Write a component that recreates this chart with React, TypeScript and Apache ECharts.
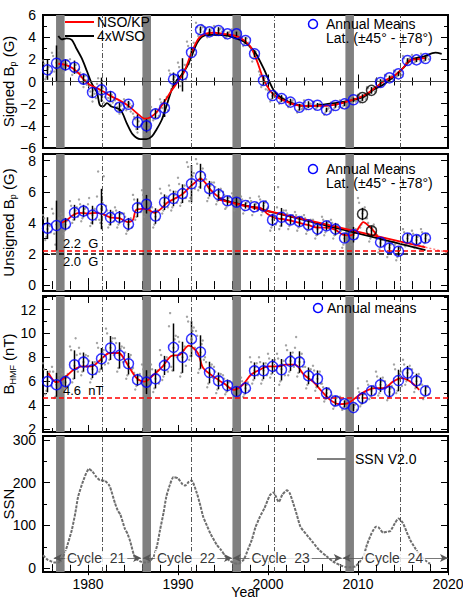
import React, { useEffect, useRef } from "react";
import * as echarts from "echarts";

const FONT = "'Liberation Sans', Arial, Helvetica, sans-serif";
const X_MIN = 1975;
const X_MAX = 2020;
const X_LABELS = [1980, 1990, 2000, 2010, 2020];
const X_MAJOR = [1980, 1990, 2000, 2010, 2020];
const X_MINOR = [1976, 1978, 1982, 1984, 1986, 1988, 1992, 1994, 1996, 1998, 2002, 2004, 2006, 2008, 2012, 2014, 2016, 2018];

// solar minima (gray bands) and maxima (dash-dot lines)
const minimaBands = [[1976.45, 1977.4], [1986.05, 1987.0], [1996.05, 1997.0], [2008.6, 2009.55]];
const maximaYears = [1981.63, 1991.44, 2000.7, 2014.67];

// annual mean epochs
const meanYears = [1975.5, 1976.5, 1977.5, 1978.5, 1979.5, 1980.5, 1981.5, 1982.5, 1983.5, 1984.5, 1985.5, 1986.5, 1987.5, 1988.5, 1989.5, 1990.5, 1991.5, 1992.5, 1993.5, 1994.5, 1995.5, 1996.5, 1997.5, 1998.5, 1999.5, 2000.5, 2001.5, 2002.5, 2003.5, 2004.5, 2005.5, 2006.5, 2007.5, 2008.5, 2009.5, 2010.5, 2011.5, 2012.5, 2013.5, 2014.5, 2015.5, 2016.5, 2017.5];
const gapYears = [2010.5, 2011.5];
const dotYears = [1975, 1976, 1977, 1978, 1979, 1980, 1981, 1982, 1983, 1984, 1985, 1986, 1987, 1988, 1989, 1990, 1991, 1992, 1993, 1994, 1995, 1996, 1997, 1998, 1999, 2000, 2001, 2002, 2003, 2004, 2005, 2006, 2007, 2008, 2009, 2010, 2011, 2012, 2013, 2014, 2015, 2016, 2017];
const dotOffsetsA = [0.125, 0.375, 0.625, 0.875];
const dotOffsetsB = [0.0, 0.25, 0.5, 0.75];

// ---- Panel 1: signed Bp
const signedMeans = [1.05, 1.65, 1.5, 1.29, 0.21, -0.99, -0.75, -1.35, -2.32, -2.05, -3.67, -4.0, -2.92, -2.4, 0.21, 0.6, 2.62, 4.66, 4.48, 4.6, 4.3, 4.3, 3.7, 2.5, 0.09, -1.26, -1.53, -1.86, -2.32, -2.08, -2.14, -2.56, -2.17, -2.02, -1.65, -1.45, -0.8, -0.09, 0.33, 0.69, 1.9, 1.95, 2.07];
const signedErr = [0.9, 1.6, 0.5, 0.6, 0.5, 0.5, 1.1, 0.5, 0.4, 0.3, 0.7, 0.6, 0.4, 0.8, 0.6, 1.5, 0.4, 0.3, 0.3, 0.3, 0.2, 0.2, 0.3, 0.3, 0.4, 0.3, 0.3, 0.3, 0.3, 0.3, 0.2, 0.2, 0.2, 0.2, 0.2, 0.3, 0.3, 0.3, 0.2, 0.2, 0.2, 0.2, 0.2];
const signedDotsA = [
  [1.6, 0.4, 1.3, 0.9], [2.3, 1.2, 2.0, 1.3], [1.8, 1.0, 1.6, 1.4], [1.6, 0.9, 1.5, 1.0], [0.8, -0.1, 0.5, -0.3],
  [-0.4, -1.3, -0.8, -1.5], [0.3, -1.2, -0.6, -1.4], [-1.0, -1.8, -1.2, -1.6], [-2.0, -2.6, -2.2, -2.5], [-1.8, -2.3, -2.0, -2.2],
  [-3.2, -4.3, -3.6, -3.9], [-3.6, -4.5, -4.2, -3.8], [-2.6, -3.3, -2.8, -3.1], [-1.9, -2.9, -2.2, -2.6], [0.7, -0.4, 0.4, 0.0],
  [1.3, 0.0, 1.1, 0.2], [3.2, 2.0, 3.0, 2.4], [4.9, 4.3, 5.1, 4.5], [4.7, 4.2, 4.6, 4.4], [4.9, 4.3, 4.7, 4.5],
  [4.5, 4.0, 4.4, 4.2], [4.5, 4.1, 4.4, 4.2], [4.0, 3.4, 3.9, 3.5], [2.9, 2.1, 2.7, 2.3], [0.6, -0.3, 0.3, -0.1],
  [-1.0, -1.6, -1.1, -1.4], [-1.3, -1.8, -1.5, -1.6], [-1.6, -2.1, -1.8, -2.0], [-2.1, -2.6, -2.2, -2.4], [-1.9, -2.3, -2.0, -2.2],
  [-1.9, -2.4, -2.1, -2.3], [-2.3, -2.8, -2.5, -2.7], [-2.0, -2.4, -2.1, -2.3], [-1.8, -2.2, -1.9, -2.1], [-1.5, -1.9, -1.6, -1.7],
  [-1.3, -1.7, -1.4, -1.6], [-0.6, -1.0, -0.7, -0.9], [0.1, -0.3, 0.0, -0.2], [0.5, 0.1, 0.4, 0.2], [0.9, 0.5, 0.8, 0.6],
  [2.1, 1.7, 2.0, 1.8], [2.2, 1.8, 2.1, 1.9], [2.3, 1.9, 2.2, 2.0],
];
const signedDotsB = [
  [1.9, 0.2, 1.1, 0.6], [2.6, 0.9, 1.7, 2.8], [2.0, 0.8, 1.3, 1.9], [2.0, 0.6, 1.2, 0.8], [1.1, 0.4, -0.5, 0.1],
  [0.1, -0.9, -1.8, -1.1], [-0.2, -0.9, -1.7, -1.9], [-0.7, -1.5, -2.1, -1.9], [-1.7, -2.3, -2.9, -2.1], [-1.6, -2.6, -1.9, -2.7],
  [-2.9, -3.4, -4.6, -4.1], [-3.4, -4.8, -4.0, -3.9], [-2.3, -3.5, -2.5, -3.3], [-1.6, -2.4, -3.1, -1.4], [1.0, -0.7, 0.2, 0.6],
  [1.7, -0.4, 0.7, 1.5], [3.6, 1.6, 2.7, 3.5], [5.3, 4.1, 4.7, 4.9], [4.9, 4.0, 4.5, 4.8], [5.0, 4.2, 4.6, 4.8],
  [4.7, 3.9, 4.3, 4.5], [4.7, 3.9, 4.3, 4.6], [4.2, 3.2, 3.7, 3.3], [3.1, 1.8, 2.5, 2.0], [0.9, -0.5, 0.1, -0.7],
  [-0.8, -1.8, -1.3, -1.2], [-1.1, -2.0, -1.4, -1.7], [-1.5, -2.3, -1.9, -1.7], [-2.0, -2.8, -2.3, -2.5], [-1.7, -2.5, -2.1, -2.0],
  [-1.8, -2.5, -2.2, -2.0], [-2.2, -3.0, -2.6, -2.4], [-1.9, -2.6, -2.2, -2.0], [-1.7, -2.4, -2.0, -1.8], [-1.4, -2.0, -1.6, -1.8],
  [-1.2, -1.9, -1.5, -1.4], [-0.5, -1.2, -0.8, -0.6], [0.2, -0.4, -0.1, 0.1], [0.6, 0.0, 0.3, 0.5], [1.0, 0.4, 0.7, 0.9],
  [2.3, 1.5, 1.9, 2.1], [2.4, 1.7, 2.0, 2.2], [2.5, 1.8, 2.1, 2.3],
];
const nsoKpCurve = [[1976.7, 1.6], [1977.5, 1.5], [1978.3, 1.2], [1979.0, 0.7], [1979.5, 0.2], [1980.2, -0.3], [1981.0, -0.6], [1981.7, -0.9], [1982.5, -1.3], [1983.5, -1.7], [1984.5, -2.2], [1985.5, -2.9], [1986.3, -3.35], [1987.0, -3.2], [1987.8, -2.6], [1988.5, -1.8], [1989.3, -0.8], [1990.0, 0.0], [1990.7, 0.9], [1991.5, 2.6], [1992.3, 3.9], [1993.0, 4.3], [1994.0, 4.4], [1995.0, 4.3], [1996.0, 4.2], [1997.0, 3.9], [1998.0, 3.2], [1998.8, 1.8], [1999.5, 0.2], [2000.3, -0.9], [2001.0, -1.4], [2002.0, -1.8], [2003.0, -2.1], [2004.0, -2.2], [2005.0, -2.2], [2006.0, -2.2], [2007.0, -2.15], [2008.0, -2.0], [2009.0, -1.75], [2010.0, -1.5], [2011.0, -1.1], [2012.0, -0.5], [2013.0, 0.1], [2014.0, 0.5], [2015.0, 1.2], [2015.7, 1.9], [2016.5, 2.0], [2017.5, 2.1]];
const wsoCurve = [[1976.7, 4.1], [1977.1, 3.8], [1977.6, 3.9], [1978.2, 3.76], [1978.7, 3.0], [1979.3, 2.1], [1979.9, 0.9], [1980.4, -0.15], [1981.0, -1.0], [1981.3, -2.1], [1981.7, -2.25], [1982.1, -1.95], [1982.6, -2.25], [1983.6, -2.55], [1984.3, -3.75], [1985.0, -4.8], [1985.8, -5.2], [1986.5, -5.2], [1987.1, -4.95], [1987.6, -4.35], [1988.2, -3.45], [1988.7, -2.25], [1989.3, -0.75], [1989.9, 0.15], [1990.4, 0.6], [1991.0, 1.35], [1991.5, 2.25], [1992.1, 3.45], [1992.8, 4.1], [1993.9, 4.2], [1995.4, 4.15], [1996.9, 3.75], [1997.3, 3.6], [1998.0, 3.15], [1998.6, 2.6], [1999.5, 1.2], [2000.6, -0.75], [2001.5, -1.5], [2003.2, -2.1], [2005.0, -2.2], [2006.9, -2.0], [2008.7, -1.8], [2010.6, -1.4], [2011.7, -0.75], [2012.8, -0.3], [2013.9, 0.4], [2015.0, 1.2], [2016.0, 2.0], [2017.3, 2.25], [2018.6, 2.6], [2019.3, 2.5]];

// ---- Panel 2: unsigned Bp
const unsignedMeans = [3.66, 3.83, 3.92, 4.66, 4.76, 4.5, 4.89, 4.34, 4.36, 3.92, 4.97, 5.2, 4.44, 5.33, 5.57, 5.88, 6.52, 7.0, 6.2, 5.82, 5.42, 5.33, 5.12, 5.04, 5.08, 4.19, 4.36, 4.19, 4.08, 3.87, 3.6, 3.81, 3.6, 3.03, 3.24, 4.57, 3.49, 2.75, 2.39, 2.18, 3.03, 2.92, 3.03];
const unsignedErr = [0.7, 1.6, 0.4, 0.5, 0.4, 0.6, 1.3, 0.5, 0.4, 0.4, 0.6, 0.6, 0.5, 0.5, 0.5, 0.6, 1.2, 0.8, 0.5, 0.4, 0.3, 0.3, 0.2, 0.2, 0.3, 0.4, 0.6, 0.3, 0.3, 0.3, 0.4, 0.3, 0.4, 0.3, 0.5, 0.4, 0.3, 0.3, 0.3, 0.3, 0.3, 0.3, 0.3];
const unsignedDotsA = [
  [4.3, 3.1, 3.9, 3.4], [4.6, 2.6, 4.1, 3.7], [4.4, 3.5, 4.1, 3.7], [5.1, 4.2, 4.8, 4.4], [5.2, 4.3, 4.9, 4.5],
  [5.6, 4.0, 4.7, 4.2], [7.3, 4.0, 5.3, 4.5], [4.8, 3.9, 4.5, 4.1], [4.8, 3.9, 4.6, 4.1], [4.4, 3.5, 4.1, 3.7],
  [5.5, 4.4, 5.2, 4.7], [5.8, 4.6, 5.4, 4.9], [5.0, 3.9, 4.7, 4.2], [5.9, 4.8, 5.6, 5.0], [6.1, 5.0, 5.8, 5.3],
  [6.5, 5.3, 6.2, 5.6], [7.6, 5.6, 7.0, 6.2], [7.8, 6.3, 7.3, 6.7], [6.8, 5.6, 6.4, 6.0], [6.3, 5.4, 6.0, 5.6],
  [5.8, 5.0, 5.6, 5.2], [5.7, 5.0, 5.5, 5.1], [5.5, 4.8, 5.3, 4.9], [5.4, 4.7, 5.2, 4.8], [5.5, 4.7, 5.3, 4.9],
  [4.7, 3.7, 4.4, 3.9], [6.3, 3.8, 4.6, 4.1], [4.6, 3.8, 4.4, 4.0], [4.5, 3.7, 4.3, 3.9], [4.3, 3.5, 4.1, 3.6],
  [4.0, 3.2, 3.8, 3.4], [4.2, 3.4, 4.0, 3.6], [4.0, 3.2, 3.8, 3.4], [3.5, 2.6, 3.2, 2.8], [3.8, 2.8, 3.5, 3.0],
  [5.3, 3.9, 4.8, 4.3], [4.0, 3.0, 3.7, 3.3], [3.2, 2.3, 2.9, 2.5], [2.8, 2.0, 2.6, 2.2], [2.6, 1.8, 2.4, 2.0],
  [3.4, 2.6, 3.2, 2.8], [3.3, 2.5, 3.1, 2.7], [3.4, 2.7, 3.2, 2.9],
];
const unsignedDotsB = [
  [4.5, 2.9, 3.6, 3.8], [4.9, 3.3, 3.9, 4.3], [4.6, 3.3, 3.9, 4.2], [5.4, 4.0, 4.6, 5.0], [5.5, 4.1, 4.7, 5.0],
  [5.2, 3.8, 4.5, 4.9], [5.7, 4.2, 4.9, 7.0], [5.1, 3.7, 4.3, 4.7], [5.0, 3.7, 4.3, 4.6], [4.6, 3.3, 3.9, 4.3],
  [5.8, 4.2, 4.9, 5.3], [6.1, 4.4, 5.1, 5.6], [5.3, 3.7, 4.4, 4.8], [6.2, 4.6, 5.3, 5.7], [6.4, 4.8, 5.5, 6.0],
  [6.9, 5.1, 5.9, 6.4], [7.9, 5.4, 6.5, 7.2], [8.1, 6.1, 6.9, 7.5], [7.1, 5.4, 6.2, 6.6], [6.6, 5.2, 5.8, 6.2],
  [6.0, 4.9, 5.4, 5.7], [5.9, 4.8, 5.3, 5.6], [5.7, 4.6, 5.1, 5.4], [5.6, 4.5, 5.0, 5.3], [5.7, 4.5, 5.1, 5.4],
  [5.0, 3.5, 4.2, 4.6], [5.0, 3.6, 4.3, 4.8], [4.8, 3.6, 4.2, 4.5], [4.7, 3.5, 4.1, 4.4], [4.5, 3.3, 3.9, 4.2],
  [4.2, 3.0, 3.6, 3.9], [4.4, 3.2, 3.8, 4.1], [4.2, 3.0, 3.6, 3.9], [3.7, 2.4, 3.0, 3.3], [4.0, 2.6, 3.2, 3.6],
  [5.6, 3.7, 4.6, 5.0], [4.3, 2.8, 3.5, 3.9], [3.4, 2.1, 2.7, 3.0], [3.0, 1.8, 2.4, 2.7], [2.8, 1.6, 2.2, 2.5],
  [3.6, 2.5, 3.0, 3.3], [3.5, 2.4, 2.9, 3.2], [3.6, 2.5, 3.0, 3.3],
];
const unsignedSmooth = [[1977.0, 4.0], [1977.6, 4.15], [1978.2, 4.45], [1979.0, 4.65], [1980.0, 4.6], [1981.0, 4.65], [1981.7, 4.55], [1982.5, 4.35], [1983.5, 4.3], [1984.4, 4.05], [1985.0, 4.2], [1985.3, 4.8], [1986.0, 4.9], [1986.7, 4.85], [1987.4, 4.65], [1988.0, 4.85], [1988.8, 5.3], [1989.6, 5.55], [1990.5, 5.85], [1991.3, 6.3], [1991.9, 6.6], [1992.5, 6.85], [1993.0, 6.6], [1993.5, 6.2], [1994.2, 5.8], [1995.0, 5.5], [1996.0, 5.3], [1997.0, 5.15], [1998.0, 5.05], [1999.2, 4.95], [2000.0, 4.55], [2000.8, 4.3], [2001.6, 4.25], [2002.5, 4.15], [2003.5, 4.0], [2004.5, 3.85], [2005.5, 3.7], [2006.5, 3.7], [2007.5, 3.55], [2008.3, 3.25], [2009.2, 3.2], [2009.8, 3.45], [2010.6, 4.05], [2011.2, 3.8], [2011.7, 3.5], [2012.3, 3.0]];
const unsignedFitBlack = [[1994.5, 5.55], [2017.5, 2.25]];
const unsignedFitRed = [[1994.5, 5.5], [2017.5, 2.43]];
const unsignedFitRedExt = [[2017.5, 2.43], [2020, 2.1]];
const unsignedThresholds = [2.2, 2.0];

// ---- Panel 3: B_HMF
const hmfMeans = [5.97, 5.7, 5.97, 7.38, 7.6, 6.96, 7.88, 8.78, 8.16, 7.46, 6.12, 5.92, 6.2, 7.32, 8.83, 8.0, 9.54, 8.44, 6.73, 6.03, 5.64, 5.14, 5.42, 6.87, 6.87, 7.24, 6.96, 7.66, 7.6, 6.45, 6.2, 5.0, 4.35, 4.1, 3.79, 4.58, 5.19, 5.7, 5.14, 6.06, 6.68, 6.03, 5.19];
const hmfErr = [0.9, 1.0, 0.5, 1.2, 0.8, 0.7, 0.9, 1.0, 1.1, 0.9, 0.5, 1.0, 0.8, 0.8, 2.0, 1.3, 1.5, 1.4, 0.9, 0.7, 0.5, 0.4, 0.5, 0.7, 0.7, 0.6, 0.9, 0.8, 0.9, 0.7, 0.7, 0.5, 0.4, 0.3, 0.3, 0.5, 0.4, 0.6, 0.5, 0.9, 0.6, 0.6, 0.4];
const hmfDotsA = [
  [7.0, 5.2, 6.5, 5.6], [6.8, 4.7, 6.2, 5.2], [6.6, 5.4, 6.3, 5.7], [8.6, 6.2, 9.6, 6.8], [8.3, 6.8, 8.0, 7.2],
  [7.7, 6.2, 7.4, 6.6], [8.8, 7.0, 8.4, 7.4], [10.0, 7.8, 9.3, 8.2], [9.2, 7.1, 8.7, 7.6], [8.4, 6.5, 8.0, 7.0],
  [6.7, 5.6, 6.4, 5.9], [7.0, 4.9, 6.5, 5.4], [7.0, 5.4, 6.6, 5.8], [8.2, 6.4, 7.8, 6.8], [11.7, 6.9, 9.5, 8.0],
  [9.3, 6.7, 8.6, 7.3], [11.0, 8.1, 10.2, 8.8], [9.8, 7.0, 9.1, 7.8], [7.6, 5.8, 7.2, 6.3], [6.8, 5.3, 6.4, 5.7],
  [6.2, 5.1, 5.9, 5.4], [5.6, 4.7, 5.4, 4.9], [6.0, 4.9, 5.7, 5.2], [7.6, 6.1, 7.2, 6.5], [7.6, 6.1, 7.2, 6.5],
  [7.9, 6.6, 7.6, 6.9], [7.9, 6.0, 7.4, 6.5], [8.6, 6.8, 8.1, 7.2], [9.7, 6.7, 8.0, 7.2], [7.2, 5.7, 6.9, 6.1],
  [6.9, 5.5, 6.6, 5.8], [5.5, 4.5, 5.3, 4.7], [4.8, 3.9, 4.6, 4.1], [4.5, 3.8, 4.3, 3.9], [4.2, 3.5, 4.0, 3.6],
  [5.1, 4.1, 4.9, 4.3], [5.7, 4.7, 5.5, 4.9], [6.4, 5.0, 6.0, 5.4], [5.7, 4.6, 5.4, 4.9], [7.0, 5.2, 6.6, 5.6],
  [7.4, 6.0, 7.0, 6.3], [6.7, 5.4, 6.4, 5.7], [5.7, 4.7, 5.5, 4.9],
];
const hmfDotsB = [
  [7.5, 4.9, 6.0, 6.8], [7.2, 4.6, 5.7, 6.5], [7.0, 5.1, 5.9, 6.6], [8.9, 5.9, 7.3, 8.2], [8.8, 6.5, 7.6, 8.2],
  [8.1, 5.9, 7.0, 7.6], [9.2, 6.8, 7.9, 8.6], [10.4, 7.5, 8.8, 9.6], [9.6, 6.8, 8.2, 8.9], [8.8, 6.2, 7.5, 8.2],
  [7.1, 5.3, 6.1, 6.6], [7.4, 4.6, 5.9, 6.6], [7.4, 5.1, 6.2, 6.9], [8.6, 6.1, 7.3, 8.0], [10.6, 7.2, 8.8, 9.8],
  [9.7, 6.4, 8.0, 8.9], [11.4, 7.8, 9.5, 10.5], [10.2, 6.7, 8.4, 9.4], [8.0, 5.5, 6.7, 7.4], [7.2, 5.0, 6.0, 6.6],
  [6.5, 4.9, 5.6, 6.0], [5.9, 4.5, 5.1, 5.5], [6.3, 4.7, 5.4, 5.9], [8.0, 5.8, 6.9, 7.5], [8.0, 5.8, 6.9, 7.5],
  [8.3, 6.3, 7.2, 7.8], [8.3, 5.7, 7.0, 7.7], [9.0, 6.5, 7.7, 8.4], [8.8, 6.4, 7.6, 8.3], [7.6, 5.4, 6.4, 7.0],
  [7.3, 5.2, 6.2, 6.8], [5.8, 4.3, 5.0, 5.4], [5.1, 3.7, 4.3, 4.7], [4.7, 3.6, 4.1, 4.4], [4.4, 3.3, 3.8, 4.1],
  [5.4, 3.9, 4.6, 5.0], [6.0, 4.5, 5.2, 5.6], [6.8, 4.8, 5.7, 6.3], [6.0, 4.4, 5.1, 5.6], [7.4, 5.0, 6.1, 6.8],
  [7.8, 5.7, 6.7, 7.3], [7.0, 5.1, 6.0, 6.6], [6.0, 4.5, 5.2, 5.6],
];
const hmfSmooth = [[1975.6, 6.7], [1976.5, 5.9], [1977.4, 6.3], [1978.4, 6.95], [1979.4, 7.24], [1980.4, 7.24], [1981.4, 7.8], [1982.4, 8.36], [1983.4, 8.36], [1984.4, 7.38], [1985.4, 6.26], [1986.3, 5.97], [1987.3, 6.54], [1988.3, 7.24], [1989.2, 8.08], [1990.2, 8.22], [1991.2, 8.97], [1992.2, 8.36], [1992.8, 7.1], [1994.2, 6.26], [1995.2, 5.76], [1996.2, 5.28], [1997.2, 5.7], [1998.1, 6.54], [1999.1, 6.96], [2000.0, 7.24], [2001.1, 7.24], [2002.0, 7.38], [2003.0, 7.38], [2004.0, 6.54], [2005.0, 5.97], [2006.0, 5.13], [2006.9, 4.44], [2007.9, 4.08], [2008.9, 4.16], [2009.9, 4.71], [2010.9, 5.19], [2011.9, 5.42], [2012.9, 5.42], [2013.9, 5.97], [2014.8, 6.26], [2015.8, 5.97], [2016.8, 5.28]];
const hmfThreshold = 4.6;

// ---- Panel 4: sunspot number V2.0
const ssnYears = [1975.0, 1975.5, 1975.9, 1976.3, 1976.8, 1977.4, 1977.8, 1978.2, 1978.6, 1978.9, 1979.5, 1980.1, 1980.5, 1980.9, 1981.3, 1981.9, 1982.4, 1983.0, 1983.3, 1983.6, 1984.1, 1984.4, 1984.7, 1985.2, 1985.8, 1986.3, 1986.8, 1987.3, 1987.7, 1988.0, 1988.4, 1988.7, 1989.1, 1989.5, 1990.0, 1990.5, 1990.8, 1991.2, 1991.5, 1992.1, 1992.5, 1992.8, 1993.2, 1993.6, 1994.3, 1994.8, 1995.2, 1995.7, 1996.2, 1996.7, 1997.3, 1997.8, 1998.2, 1998.6, 1999.1, 1999.6, 2000.2, 2000.6, 2001.2, 2001.6, 2002.1, 2002.4, 2002.8, 2003.2, 2003.6, 2004.3, 2005.0, 2005.7, 2006.5, 2007.2, 2008.0, 2008.6, 2009.0, 2009.7, 2010.2, 2010.6, 2011.0, 2011.5, 2012.0, 2012.3, 2012.8, 2013.2, 2013.6, 2014.1, 2014.5, 2015.0, 2015.4, 2015.8, 2016.4, 2016.9, 2017.5, 2018.0];
const ssnValues = [30, 20, 16, 13, 14, 34, 60, 89, 130, 167, 206, 232, 226, 214, 206, 204, 192, 152, 135, 125, 92, 80, 62, 25, 16, 13, 15, 27, 55, 89, 130, 167, 195, 213, 210, 196, 193, 202, 205, 175, 145, 120, 100, 81, 55, 42, 30, 18, 12, 10, 20, 45, 66, 95, 120, 140, 170, 177, 155, 172, 182, 176, 152, 125, 97, 78, 60, 42, 28, 16, 7, 3, 2, 4, 15, 27, 55, 81, 97, 95, 83, 85, 87, 105, 116, 105, 85, 66, 45, 30, 18, 10];
const cycleNames = ["Cycle  21", "Cycle  22", "Cycle  23", "Cycle  24"];
const cycleSpans = [[1976.2, 1985.9], [1986.1, 1996.0], [1996.1, 2008.2], [2008.3, 2020.0]];
const cycleLabelYears = [1980.9, 1990.9, 2001.4, 2014.0];
const cycleArrowLevel = 24;

// ---- layout
const GRIDS = [
  { left: 43, top: 15, width: 405, height: 133 },
  { left: 43, top: 154, width: 405, height: 137 },
  { left: 43, top: 296, width: 405, height: 136 },
  { left: 43, top: 436, width: 405, height: 136 },
];

function makeX(grid: number, showLabels: boolean, name?: string) {
  const mk = (pos: string, ticks: number[], len: number, labels: boolean) => ({
    type: "value",
    gridIndex: grid,
    position: pos,
    min: X_MIN,
    max: X_MAX,
    axisLine: { show: false },
    splitLine: { show: false },
    axisTick: { show: true, inside: true, length: len, customValues: ticks, lineStyle: { color: "#000", width: 1 } },
    axisLabel: labels
      ? { show: true, customValues: X_LABELS, fontSize: 14, color: "#000", fontFamily: FONT, margin: 5, formatter: (v: number) => String(v) }
      : { show: false },
    name: labels ? name : undefined,
    nameLocation: "middle",
    nameGap: 13,
    nameMoveOverlap: false,
    nameTextStyle: { fontSize: 14, color: "#000", fontFamily: FONT },
  });
  return [mk("bottom", X_MAJOR, 7, showLabels), mk("bottom", X_MINOR, 4, false), mk("top", X_MAJOR, 7, false), mk("top", X_MINOR, 4, false)];
}

function makeY(grid: number, min: number, max: number, major: number[], minor: number[], name: string, rich: any) {
  const mk = (pos: string, ticks: number[], len: number, labels: boolean) => ({
    type: "value",
    gridIndex: grid,
    position: pos,
    min,
    max,
    axisLine: { show: false },
    splitLine: { show: false },
    axisTick: { show: true, inside: true, length: len, customValues: ticks, lineStyle: { color: "#000", width: 1 } },
    axisLabel: labels
      ? {
          show: true,
          customValues: major,
          fontSize: 14,
          lineHeight: 12,
          color: "#000",
          fontFamily: FONT,
          margin: 7,
          formatter: (v: number) => String(v).replace("-", "\u2212"),
        }
      : { show: false },
    name: labels ? name : undefined,
    nameLocation: "middle",
    nameGap: 26,
    nameMoveOverlap: false,
    nameRotate: 90,
    nameTextStyle: { fontSize: 15, color: "#000", fontFamily: FONT, rich },
  });
  return [mk("left", major, 7, true), mk("left", minor, 4, false), mk("right", major, 7, false), mk("right", minor, 4, false)];
}

const richSub = {
  t: { fontSize: 15, fontFamily: FONT, color: "#000", lineHeight: 18 },
  s: { fontSize: 9, fontFamily: FONT, color: "#000", verticalAlign: "bottom", lineHeight: 12, padding: [6, 0, 0, 0] },
};

function dotsData(dots: number[][], offsets: number[]) {
  const out: number[][] = [];
  dots.forEach((row, i) => row.forEach((v, k) => out.push([dotYears[i] + offsets[k], v])));
  return out;
}

function frameSeries(g: number, extraLines: any[] = []) {
  return {
    type: "line",
    xAxisIndex: g * 4,
    yAxisIndex: g * 4,
    data: [],
    silent: true,
    z: 1,
    markArea: {
      silent: true,
      itemStyle: { color: "#808080" },
      data: minimaBands.map((b) => [{ xAxis: b[0] }, { xAxis: b[1] }]),
    },
    markLine: {
      silent: true,
      symbol: ["none", "none"],
      label: { show: false },
      lineStyle: { color: "#555", width: 1, type: [5, 2, 1, 2] },
      data: [...maximaYears.map((x) => ({ xAxis: x })), ...extraLines],
    },
  };
}

function meanSeries(g: number, means: number[], errs: number[]) {
  const xi = g * 4;
  const blue: number[][] = [];
  const black: number[][] = [];
  meanYears.forEach((y, i) => (gapYears.includes(y) && g < 2 ? black : blue).push([y, means[i]]));
  return [
    {
      type: "custom",
      xAxisIndex: xi,
      yAxisIndex: xi,
      silent: true,
      z: 4,
      data: meanYears.map((y, i) => [y, means[i] - errs[i], means[i] + errs[i]]),
      renderItem: (params: any, api: any) => {
        const p1 = api.coord([api.value(0), api.value(1)]);
        const p2 = api.coord([api.value(0), api.value(2)]);
        return { type: "line", shape: { x1: p1[0], y1: p1[1], x2: p2[0], y2: p2[1] }, style: { stroke: "#000", lineWidth: 1.5 } };
      },
    },
    {
      type: "scatter",
      xAxisIndex: xi,
      yAxisIndex: xi,
      silent: true,
      z: 5,
      symbol: "circle",
      symbolSize: 10,
      itemStyle: { color: "transparent", borderColor: "#0000ff", borderWidth: 1.5 },
      data: blue,
    },
    {
      type: "scatter",
      xAxisIndex: xi,
      yAxisIndex: xi,
      silent: true,
      z: 5,
      symbol: "circle",
      symbolSize: 10,
      itemStyle: { color: "transparent", borderColor: "#000", borderWidth: 1.5 },
      data: black,
    },
  ];
}

function dotSeries(g: number, dotsA: number[][], dotsB: number[][]) {
  return {
    type: "scatter",
    xAxisIndex: g * 4,
    yAxisIndex: g * 4,
    silent: true,
    z: 2,
    symbolSize: 2.4,
    itemStyle: { color: "#8c8c8c" },
    data: [...dotsData(dotsA, dotOffsetsA), ...dotsData(dotsB, dotOffsetsB)],
  };
}

function lineSeries(g: number, data: number[][], color: string, width: number, extra: any = {}) {
  return {
    type: "line",
    xAxisIndex: g * 4,
    yAxisIndex: g * 4,
    silent: true,
    z: 3,
    showSymbol: false,
    symbol: "none",
    smooth: 0.3,
    lineStyle: { color, width, ...(extra.lineStyle || {}) },
    data,
  };
}

function legendGraphics() {
  const txt = (x: number, y: number, text: string) => ({
    type: "text",
    x,
    y,
    z: 100,
    style: { text, fontSize: 14, fontFamily: FONT, fill: "#000", verticalAlign: "middle", align: "left" },
  });
  const circ = (cx: number, cy: number) => ({
    type: "circle",
    z: 100,
    shape: { cx, cy, r: 4.5 },
    style: { fill: "none", stroke: "#0000ff", lineWidth: 1.5 },
  });
  const seg = (x1: number, x2: number, y: number, stroke: string) => ({
    type: "line",
    z: 100,
    shape: { x1, y1: y, x2, y2: y },
    style: { stroke, lineWidth: 2 },
  });
  return [
    seg(65, 94, 22, "#ff0000"),
    txt(97, 22, "NSO/KP"),
    seg(65, 94, 36, "#000"),
    txt(97, 36, "4xWSO"),
    circ(313, 24),
    txt(326, 24, "Annual Means"),
    txt(326, 38, "Lat. (\u00b145\u00b0 - \u00b178\u00b0)"),
    circ(313, 169),
    txt(326, 169, "Annual Means"),
    txt(326, 183, "Lat. (\u00b145\u00b0 - \u00b178\u00b0)"),
    circ(318, 308),
    txt(327, 308, "Annual means"),
    seg(317, 351, 459, "#808080"),
    txt(355, 459, "SSN V2.0"),
  ];
}

export default function App() {
  const ref = useRef<HTMLDivElement>(null);
  useEffect(() => {
    document.body.style.margin = "0";
    const chart = echarts.init(ref.current!, null, { renderer: "svg" });
    const xAxis = [
      ...makeX(0, false),
      ...makeX(1, false),
      ...makeX(2, false),
      ...makeX(3, true, "Year"),
    ];
    const yAxis = [
      ...makeY(0, -6, 6, [-6, -4, -2, 0, 2, 4, 6], [-5, -3, -1, 1, 3, 5], "{t|Signed B}{s|p}{t| (G)}", richSub),
      ...makeY(1, -0.38, 8.43, [0, 2, 4, 6, 8], [1, 3, 5, 7], "{t|Unsigned B}{s|p}{t| (G)}", richSub),
      ...makeY(2, 1.75, 13.13, [2, 4, 6, 8, 10, 12], [3, 5, 7, 9, 11, 13], "{t|B}{s|HMF}{t| (nT)}", richSub),
      ...makeY(3, -9, 309, [0, 100, 200, 300], [50, 150, 250], "{t|SSN}", richSub),
    ];

    const series: any[] = [
      frameSeries(0, [{ yAxis: 0, lineStyle: { type: "solid", color: "#444", width: 1 } }]),
      dotSeries(0, signedDotsA, signedDotsB),
      lineSeries(0, wsoCurve, "#000", 1.8),
      lineSeries(0, nsoKpCurve, "#ff0000", 1.8),
      ...meanSeries(0, signedMeans, signedErr),

      frameSeries(1, [
        {
          yAxis: unsignedThresholds[0],
          lineStyle: { type: [5, 3], color: "#ff0000", width: 1.5 },
          label: { show: true, position: "insideStartTop", distance: [20, 1], formatter: "2.2  G", color: "#000", fontSize: 13, fontFamily: FONT },
        },
        {
          yAxis: unsignedThresholds[1],
          lineStyle: { type: [5, 3], color: "#000", width: 1.5 },
          label: { show: true, position: "insideStartBottom", distance: [20, 1], formatter: "2.0  G", color: "#000", fontSize: 13, fontFamily: FONT },
        },
      ]),
      dotSeries(1, unsignedDotsA, unsignedDotsB),
      lineSeries(1, unsignedSmooth, "#ff0000", 1.8),
      { ...lineSeries(1, unsignedFitBlack, "#000", 1.8), smooth: false },
      { ...lineSeries(1, unsignedFitRed, "#ff0000", 1.8), smooth: false },
      { ...lineSeries(1, unsignedFitRedExt, "#ff8080", 1.5, { lineStyle: { type: [2, 2] } }), smooth: false },
      ...meanSeries(1, unsignedMeans, unsignedErr),

      frameSeries(2, [
        {
          yAxis: hmfThreshold,
          lineStyle: { type: [5, 3], color: "#ff0000", width: 1.5 },
          label: { show: true, position: "insideStartTop", distance: [20, 1], formatter: "4.6  nT", color: "#000", fontSize: 13, fontFamily: FONT },
        },
      ]),
      dotSeries(2, hmfDotsA, hmfDotsB),
      lineSeries(2, hmfSmooth, "#ff0000", 1.8),
      ...meanSeries(2, hmfMeans, hmfErr),

      frameSeries(3),
      {
        type: "line",
        xAxisIndex: 12,
        yAxisIndex: 12,
        silent: true,
        z: 3,
        showSymbol: false,
        symbol: "none",
        smooth: 0.2,
        lineStyle: { color: "#6e6e6e", width: 2, type: [3, 1.2] },
        data: ssnYears.map((y, i) => [y, ssnValues[i]]),
        markLine: {
          silent: true,
          symbol: ["arrow", "arrow"],
          symbolSize: [6, 8],
          lineStyle: { color: "#555", width: 0.8, type: "solid" },
          label: { show: false },
          data: cycleSpans.map((s) => [{ coord: [s[0], cycleArrowLevel] }, { coord: [s[1], cycleArrowLevel] }]),
        },
      },
      {
        type: "scatter",
        xAxisIndex: 12,
        yAxisIndex: 12,
        silent: true,
        z: 6,
        symbolSize: 1,
        itemStyle: { color: "transparent" },
        label: {
          show: true,
          position: "inside",
          formatter: (p: any) => cycleNames[p.dataIndex],
          color: "#000",
          fontSize: 14,
          fontFamily: FONT,
          backgroundColor: "#fff",
          padding: [0, 2],
        },
        data: cycleLabelYears.map((y) => [y, cycleArrowLevel]),
      },
    ];

    chart.setOption({
      animation: false,
      backgroundColor: "#fff",
      grid: GRIDS.map((g) => ({
        ...g,
        show: true,
        borderColor: "#000",
        borderWidth: 2,
        backgroundColor: "transparent",
        containLabel: false,
        outerBoundsMode: "none",
      })),
      xAxis,
      yAxis,
      series,
      graphic: legendGraphics(),
    });
    return () => chart.dispose();
  }, []);
  return <div ref={ref} style={{ width: 463, height: 599 }} />;
}
